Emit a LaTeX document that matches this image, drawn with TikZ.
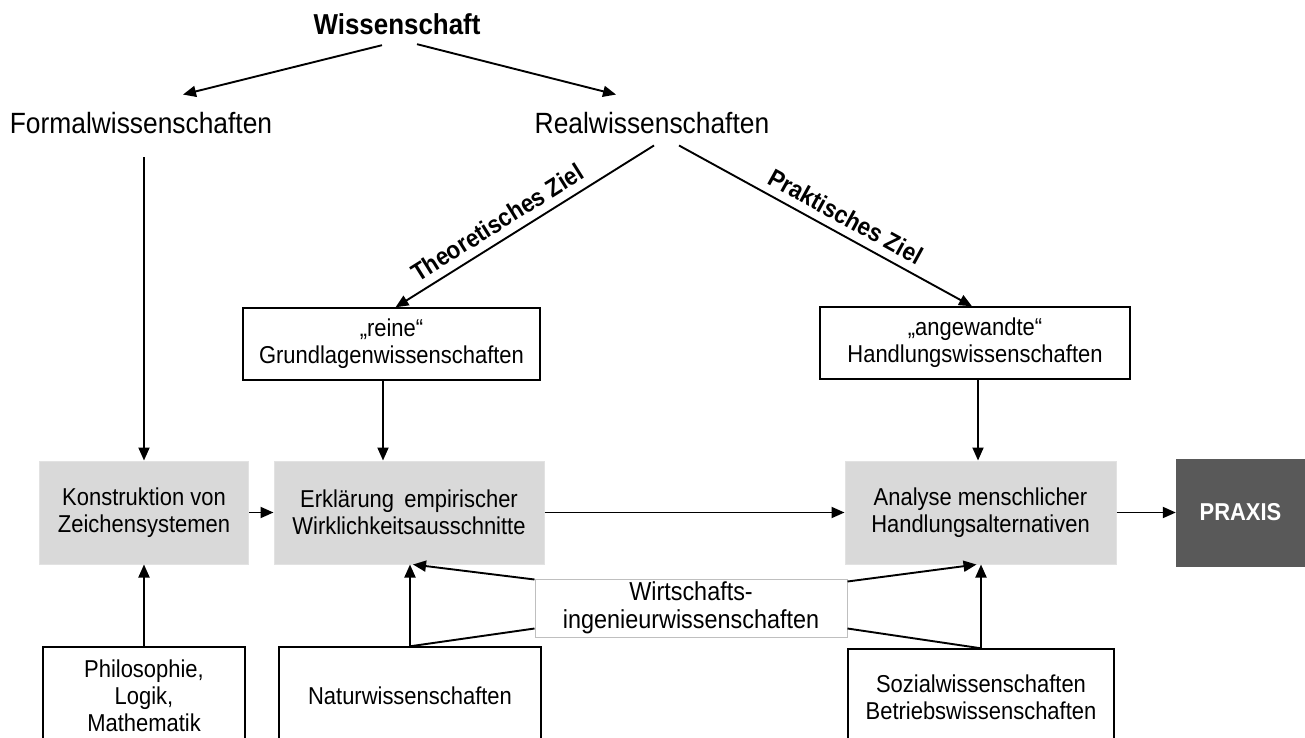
\documentclass[tikz,border=0pt]{standalone}
\usepackage{fontspec}
\setmainfont{Liberation Sans}[FakeStretch=0.9]
\usetikzlibrary{arrows.meta,calc}
\definecolor{boxgray}{RGB}{217,217,217}
\definecolor{boxedge}{RGB}{226,226,226}
\definecolor{praxisgray}{RGB}{89,89,89}
\definecolor{wiedge}{RGB}{191,191,191}
\begin{document}
\begin{tikzpicture}[x=1pt,y=-1pt,
  bigtext/.style={font=\fontsize{29.3}{33}\selectfont, inner sep=0pt, anchor=base},
  titletext/.style={font=\bfseries\fontsize{28.8}{33}\selectfont, inner sep=0pt, anchor=base},
  lbl/.style={font=\bfseries\fontsize{25}{29}\selectfont, inner sep=0pt},
  wbox/.style={draw, line width=1.4pt, align=center, inner sep=0pt,
               font=\fontsize{24.4}{26.8}\selectfont},
  gbox/.style={fill=boxgray, draw=boxedge, line width=1pt, align=center, inner sep=0pt,
               font=\fontsize{24.4}{26.8}\selectfont},
  pbox/.style={fill=praxisgray, draw=praxisgray, text=white, inner sep=0pt,
               font=\bfseries\fontsize{24.4}{28}\selectfont},
  wibox/.style={fill=white, draw=wiedge, line width=1pt, align=center, inner sep=0pt,
               font=\fontsize{26}{28}\selectfont},
  ln/.style={line width=1.9pt},
  arr/.style={line width=1.9pt, -{Triangle[length=13pt,width=11pt]}}
]
\useasboundingbox (0,0) rectangle (1305,738);
\clip (0,0) rectangle (1305,738);
\fill[white] (0,0) rectangle (1305,738);

% top texts
\node[titletext] (wiss) at (397,34.7) {Wissenschaft};
\node[bigtext] (formal) at (141,134) {Formalwissenschaften};
\node[bigtext] (real) at (652,134) {Realwissenschaften};

% middle white boxes
\node[wbox, minimum width=297pt, minimum height=72pt] (grund) at (391.5,344)
  {„reine“\\Grundlagenwissenschaften};
\node[wbox, minimum width=310pt, minimum height=72pt] (hand) at (975,343)
  {„angewandte“\\Handlungswissenschaften};

% gray boxes
\node[gbox, minimum width=209pt, minimum height=103pt] (kon) at (144,512.5)
  {Konstruktion von\\Zeichensystemen};
\node[gbox, minimum width=270pt, minimum height=103pt] (erk) at (409,512.5)
  {Erklärung\ \,empirischer\\Wirklichkeitsausschnitte};
\node[gbox, minimum width=271pt, minimum height=103pt] (ana) at (980.5,512.5)
  {Analyse menschlicher\\Handlungsalternativen};
\node[pbox, minimum width=129pt, minimum height=107pt] (praxis) at (1240.5,512.5) {PRAXIS};

% bottom boxes
\node[wbox, minimum width=202pt, minimum height=98pt] (phil) at (144,696)
  {Philosophie,\\Logik,\\Mathematik};
\node[wbox, minimum width=262pt, minimum height=98pt] (nat) at (410,696)
  {Naturwissenschaften};
\node[wbox, minimum width=266pt, minimum height=96pt] (soz) at (981,697)
  {Sozialwissenschaften\\Betriebswissenschaften};

% connectors top
\draw[arr] ($(wiss.south)+(-15,10)$) -- ($(formal.north)+(42,-18)$);
\draw[arr] ($(wiss.south)+(20,9)$) -- ($(real.north)+(-36,-18)$);
\draw[arr] ($(kon.north |- formal.south)+(0,23)$) -- (kon.north);
\draw[arr] ($(real.south)+(2,11)$) -- ($(grund.north)+(4,0)$)
  node[lbl, pos=0.57, sloped, above=8pt] {Theoretisches Ziel};
\draw[arr] ($(real.south)+(27,11)$) -- ($(hand.north)+(-3,0)$)
  node[lbl, pos=0.54, sloped, above=8pt] {Praktisches Ziel};
\draw[arr] ($(grund.south)+(-8.5,0)$) -- ($(erk.north)+(-26,0)$);
\draw[arr] ($(hand.south)+(3,0)$) -- ($(ana.north)+(-2.5,0)$);

% horizontal flow
\draw[arr] (kon.east) -- (erk.west);
\draw[arr] (erk.east) -- (ana.west);
\draw[arr] (ana.east) -- (praxis.west);

% bottom connectors
\draw[arr] (phil.north) -- (kon.south);
\draw[arr] (nat.north) -- (nat.north |- erk.south);
\draw[arr] (soz.north) -- (soz.north |- ana.south);

% Wirtschaftsingenieurwissenschaften
\node[wibox, minimum width=312pt, minimum height=58pt] (wi) at (691,608)
  {Wirtschafts-\\ingenieurwissenschaften};
\draw[arr] ($(wi.north west)+(0,1)$) -- ($(erk.south)+(4,0)$);
\draw[ln] ($(wi.south west)+(0,-9)$) -- (nat.north);
\draw[arr] ($(wi.north east)+(0,3)$) -- ($(ana.south)+(-4,0)$);
\draw[ln] ($(wi.south east)+(0,-9)$) -- (soz.north);
\end{tikzpicture}
\end{document}
